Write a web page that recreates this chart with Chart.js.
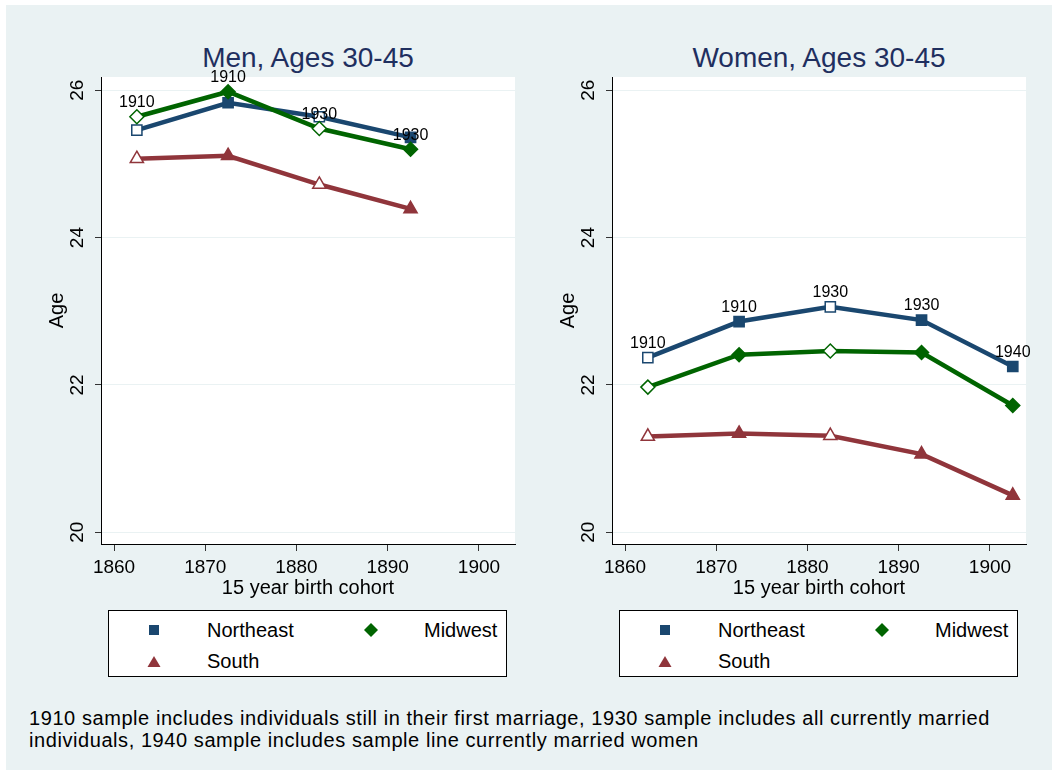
<!DOCTYPE html>
<html>
<head>
<meta charset="utf-8">
<script src="https://cdn.jsdelivr.net/npm/chart.js@4"></script>
<style>
  html, body { margin:0; padding:0; background:#fff; }
  body { width:1052px; height:770px; position:relative; overflow:hidden;
         font-family:"Liberation Sans", Arial, Helvetica, sans-serif; color:#000; }
  #panel { position:absolute; left:6px; top:5px; width:1046px; height:765px; background:#eaf2f3; }
  .title { position:absolute; top:42px; width:420px; text-align:center; font-size:28px; line-height:32px; color:#1f2f5f; }
  canvas { position:absolute; }
  .legend { position:absolute; top:610px; width:399px; height:67px; box-sizing:border-box;
            border:1px solid #000; background:#fff; }
  .legend .mk { position:absolute; }
  .legend .tx { position:absolute; font-size:20px; line-height:24px; }
  #note { position:absolute; left:29px; top:707px; font-size:20px; letter-spacing:0.57px; line-height:22px; white-space:nowrap; }
</style>
</head>
<body>
<div id="panel"></div>
<div class="title" style="left:98px;">Men, Ages 30-45</div>
<div class="title" style="left:609px;">Women, Ages 30-45</div>
<canvas id="men" width="490" height="544" style="left:40px; top:60px;"></canvas>
<canvas id="women" width="490" height="544" style="left:551px; top:60px;"></canvas>
<div class="legend" id="legMen" style="left:108px;"></div>
<div class="legend" id="legWomen" style="left:619px;"></div>
<div id="note">1910 sample includes individuals still in their first marriage, 1930 sample includes all currently married<br>individuals, 1940 sample includes sample line currently married women</div>
<script>
// ---- data ----
const menCohorts   = [1862.5, 1872.5, 1882.5, 1892.5];
const womenCohorts = [1862.5, 1872.5, 1882.5, 1892.5, 1902.5];

const menNortheast = [25.46, 25.83, 25.64, 25.36];
const menMidwest   = [25.64, 25.98, 25.48, 25.20];
const menSouth     = [25.07, 25.11, 24.72, 24.39];

const womenNortheast = [22.37, 22.86, 23.06, 22.88, 22.25];
const womenMidwest   = [21.97, 22.41, 22.46, 22.44, 21.72];
const womenSouth     = [21.30, 21.34, 21.31, 21.06, 20.50];

const menSampleYears   = ['1910', '1910', '1930', '1930'];
const womenSampleYears = ['1910', '1910', '1930', '1930', '1940'];

const menHollow   = [true, false, true, false];
const womenHollow = [true, false, true, false, false];

const yTicks = [20, 22, 24, 26];
const xTicks = [1860, 1870, 1880, 1890, 1900];

const regionNames = ['Northeast', 'Midwest', 'South'];
// ---- styles ----
const colors = { Northeast:'#1a476f', Midwest:'#006400', South:'#90353b' };
const styles = { Northeast:'rect', Midwest:'rectRot', South:'triangle' };
const radii  = { Northeast:7.2, Midwest:7, South:7.6 };

Chart.defaults.font.family = '"Liberation Sans", Arial, Helvetica, sans-serif';
Chart.defaults.color = '#000';

const plotBg = {
  id:'plotBg',
  beforeDraw(chart) {
    const a = chart.chartArea, c = chart.ctx;
    c.save(); c.fillStyle = '#fff'; c.fillRect(a.left, a.top, a.right - a.left, a.bottom - a.top); c.restore();
  }
};
const sampleLabels = {
  id:'sampleLabels',
  afterDatasetsDraw(chart, args, opts) {
    const meta = chart.getDatasetMeta(opts.datasetIndex);
    const c = chart.ctx;
    c.save();
    c.font = '16px "Liberation Sans", Arial, sans-serif';
    c.fillStyle = '#000'; c.textAlign = 'center'; c.textBaseline = 'middle';
    meta.data.forEach((pt, i) => c.fillText(opts.labels[i], pt.x, pt.y - 14));
    c.restore();
  }
};

function buildDataset(name, xs, ys, hollow, order) {
  const col = colors[name];
  return {
    label: name,
    data: xs.map((x, i) => ({ x: x, y: ys[i] })),
    borderColor: col,
    backgroundColor: col,
    borderWidth: 4.5,
    tension: 0,
    order: order,
    clip: false,
    pointStyle: styles[name],
    pointRadius: radii[name],
    pointHoverRadius: radii[name],
    pointBorderWidth: 1.5,
    pointBorderColor: col,
    pointBackgroundColor: hollow.map(h => h ? '#ffffff' : col)
  };
}

function makeChart(id, xs, series, hollow, labelIdx, labels) {
  return new Chart(document.getElementById(id), {
    type: 'line',
    data: {
      datasets: regionNames.map((n, k) => buildDataset(n, xs, series[k], hollow, 3 - k))
    },
    options: {
      responsive: false,
      animation: false,
      devicePixelRatio: 1,
      layout: { padding: { top: 17, right: 15, left: 0, bottom: 0 } },
      plugins: {
        legend: { display: false },
        tooltip: { enabled: false },
        sampleLabels: { datasetIndex: labelIdx, labels: labels }
      },
      scales: {
        x: {
          type: 'linear', min: 1858.57, max: 1903.95,
          afterBuildTicks: s => { s.ticks = xTicks.map(v => ({ value: v })); },
          afterFit: s => { s.height = 60; s.paddingLeft = 0; s.paddingRight = 0; },
          grid: { drawOnChartArea: false, drawTicks: true, tickLength: 7, tickColor: '#333', tickWidth: 1 },
          border: { color: '#000', width: 1 },
          ticks: { padding: 5, font: { size: 19 }, color: '#000', maxRotation: 0, autoSkip: false,
                   callback: v => String(v) },
          title: { display: true, text: '15 year birth cohort', font: { size: 20 }, color: '#000',
                   padding: { top: 0, bottom: 4 } }
        },
        y: {
          type: 'linear', min: 19.84, max: 26.18,
          afterBuildTicks: s => { s.ticks = yTicks.map(v => ({ value: v })); },
          afterFit: s => { s.width = 61; s.paddingTop = 0; s.paddingBottom = 0; },
          grid: { color: '#eaf2f3', lineWidth: 1, drawTicks: true, tickLength: 6, tickColor: '#333', tickWidth: 1 },
          border: { color: '#000', width: 1 },
          ticks: { minRotation: 90, maxRotation: 90, crossAlign: 'center', padding: 7,
                   font: { size: 19 }, color: '#000', callback: v => String(v) },
          title: { display: true, text: 'Age', font: { size: 20 }, color: '#000', padding: { top: 5, bottom: 0 } }
        }
      }
    },
    plugins: [plotBg, sampleLabels]
  });
}

makeChart('men', menCohorts, [menNortheast, menMidwest, menSouth], menHollow, 1, menSampleYears);
makeChart('women', womenCohorts, [womenNortheast, womenMidwest, womenSouth], womenHollow, 0, womenSampleYears);

// ---- legends ----
function markerSvg(name) {
  const c = colors[name];
  if (name === 'Northeast') return '<svg width="12" height="12"><rect x="1" y="1" width="10" height="10" fill="' + c + '"/></svg>';
  if (name === 'Midwest') return '<svg width="16" height="16"><polygon points="8,1 15,8 8,15 1,8" fill="' + c + '"/></svg>';
  return '<svg width="14" height="13"><polygon points="7,1 13.5,12 0.5,12" fill="' + c + '"/></svg>';
}
function buildLegend(id) {
  const el = document.getElementById(id);
  const items = [
    { name: 'Northeast', mx: 45, my: 19, tx: 98 },
    { name: 'Midwest',   mx: 262, my: 19, tx: 315 },
    { name: 'South',     mx: 45, my: 50, tx: 98 }
  ];
  items.forEach(it => {
    const m = document.createElement('div');
    m.className = 'mk';
    m.innerHTML = markerSvg(it.name);
    el.appendChild(m);
    const svg = m.firstChild;
    const w = +svg.getAttribute('width'), h = +svg.getAttribute('height');
    m.style.left = (it.mx - w / 2) + 'px';
    m.style.top = (it.my - h / 2) + 'px';
    m.style.width = w + 'px'; m.style.height = h + 'px'; m.style.lineHeight = '0';
    const t = document.createElement('div');
    t.className = 'tx';
    t.textContent = it.name;
    t.style.left = it.tx + 'px';
    t.style.top = (it.my - 12) + 'px';
    el.appendChild(t);
  });
}
buildLegend('legMen');
buildLegend('legWomen');
</script>
</body>
</html>
